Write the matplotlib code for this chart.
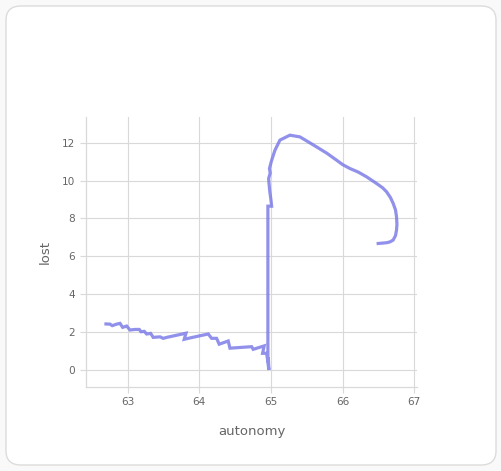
import matplotlib
matplotlib.use('Agg')
import matplotlib.pyplot as plt
from matplotlib.patches import FancyBboxPatch

# path of (autonomy, lost), in drawing order
autonomy = [62.697, 62.753, 62.785, 62.846, 62.893, 62.930, 62.986, 63.032,
            63.102, 63.162, 63.186, 63.232, 63.265, 63.321, 63.357, 63.451,
            63.497, 63.544, 63.814, 63.790, 63.893, 64.125, 64.172, 64.242,
            64.278, 64.404, 64.428, 64.731, 64.753, 64.906, 64.884, 64.940,
            64.954, 64.965, 64.972, 64.958, 64.958, 65.010, 65.000, 64.985,
            64.975, 64.968, 64.990, 64.980, 65.005, 65.030, 65.056, 65.126,
            65.265, 65.405, 65.520, 65.638, 65.780, 65.917, 66.000, 66.103,
            66.220, 66.336, 66.475, 66.560, 66.615, 66.670, 66.707, 66.740,
            66.754, 66.760, 66.754, 66.740, 66.707, 66.660, 66.615, 66.560,
            66.498]
lost = [2.43, 2.42, 2.34, 2.42, 2.46, 2.25, 2.32, 2.11,
        2.14, 2.14, 2.02, 2.04, 1.90, 1.93, 1.72, 1.75,
        1.67, 1.72, 1.94, 1.62, 1.71, 1.90, 1.67, 1.67,
        1.36, 1.53, 1.15, 1.23, 1.09, 1.27, 0.88, 0.88,
        0.53, 0.55, 0.00, 0.40, 8.65, 8.65, 9.00, 9.41,
        9.80, 10.10, 10.40, 10.64, 11.00, 11.30, 11.60, 12.14,
        12.40, 12.31, 12.05, 11.78, 11.45, 11.08, 10.85, 10.64,
        10.45, 10.20, 9.85, 9.62, 9.41, 9.10, 8.80, 8.45,
        8.09, 7.70, 7.39, 7.10, 6.86, 6.76, 6.72, 6.70,
        6.68]

fig = plt.figure(figsize=(5.02, 4.71), dpi=100)
fig.patch.set_facecolor('#f9f9f9')
card = FancyBboxPatch((6 / 502, 6 / 471), 490 / 502, 459 / 471,
                      boxstyle='round,pad=0,rounding_size=0.03',
                      transform=fig.transFigure, facecolor='white',
                      edgecolor='#dcdcdc', linewidth=1.0, zorder=-10)
fig.patches.append(card)

ax = fig.add_axes([85.7 / 502, 84 / 471, 331.3 / 502, 270 / 471])
ax.set_zorder(5)
ax.patch.set_alpha(0)
ax.plot(autonomy, lost, color='#7676e6', alpha=0.8, linewidth=2.3,
        solid_joinstyle='miter')

ax.set_xlim(62.414, 67.04)
ax.set_ylim(-0.9, 13.36)
ax.set_xticks([63, 64, 65, 66, 67])
ax.set_yticks([0, 2, 4, 6, 8, 10, 12])
ax.grid(True, color='#d9d9d9', linewidth=0.8)
ax.set_axisbelow(True)
for side in ['top', 'right']:
    ax.spines[side].set_visible(False)
for side in ['left', 'bottom']:
    ax.spines[side].set_color('#d9d9d9')
    ax.spines[side].set_linewidth(0.9)
ax.tick_params(colors='#d9d9d9', labelcolor='#666666', labelsize=7.6,
               length=4.5, width=0.8, pad=3)

ax.set_xlabel('autonomy', fontsize=9.5, color='#666666')
ax.set_ylabel('lost', fontsize=9.5, color='#666666')
ax.xaxis.set_label_coords(0.502, -0.1655)
ax.xaxis.label.set_va('center')
ax.yaxis.set_label_coords(-0.123, 0.501)
ax.yaxis.label.set_va('center')

fig.savefig('out.png', dpi=100, facecolor=fig.get_facecolor())
